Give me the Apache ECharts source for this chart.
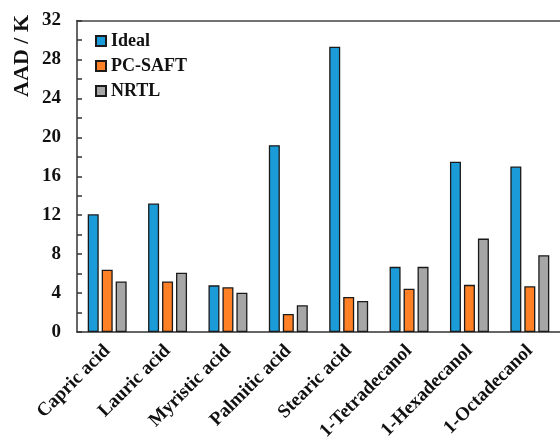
<!DOCTYPE html>
<html><head><meta charset="utf-8">
<script src="https://cdn.jsdelivr.net/npm/echarts@6/dist/echarts.min.js"></script>
<style>html,body{margin:0;padding:0;background:#fff}#c{width:560px;height:443px}</style>
</head><body><div id="c"></div>
<script>
var categories = ['Capric acid','Lauric acid','Myristic acid','Palmitic acid','Stearic acid','1-Tetradecanol','1-Hexadecanol','1-Octadecanol'];
var seriesNames = ['Ideal','PC-SAFT','NRTL'];
var idealVals = [12.1, 13.2, 4.8, 19.2, 29.3, 6.7, 17.5, 17.0];
var pcsaftVals = [6.4, 5.2, 4.6, 1.85, 3.6, 4.45, 4.85, 4.7];
var nrtlVals = [5.2, 6.1, 4.05, 2.75, 3.2, 6.7, 9.6, 7.9];
var yTicks = [0,4,8,12,16,20,24,28,32];
var colors = ['#1b9cd9','#ff8025','#a6a6a6'];
var FONT = '"Liberation Serif","Times New Roman",serif';
var chart = echarts.init(document.getElementById('c'));
function bar(name, data, color){
  return {name:name,type:'bar',data:data,barWidth:11,barGap:'27%',barCategoryGap:'38%',
    itemStyle:{color:color,borderColor:'#1a1a1a',borderWidth:1.3}};
}
chart.setOption({
  animation:false,
  backgroundColor:'#fff',
  grid:{left:77,top:20.5,right:-5,height:312.5,show:false},
  legend:{orient:'vertical',left:90,top:27,itemWidth:10,itemHeight:10,itemGap:7,icon:'rect',
    data:seriesNames,textStyle:{fontFamily:FONT,fontWeight:'bold',fontSize:18,color:'#111'}},
  xAxis:[{type:'category',data:categories,
    axisLine:{lineStyle:{color:'#333',width:1.5}},axisTick:{show:false},
    axisLabel:{rotate:45,interval:0,margin:16,fontFamily:FONT,fontWeight:'bold',fontSize:19,color:'#111'}},
    {type:'category',data:categories,position:'top',
    axisLine:{show:true,lineStyle:{color:'#444',width:1.5}},axisTick:{show:false},axisLabel:{show:false}}],
  yAxis:{type:'value',min:yTicks[0],max:yTicks[yTicks.length-1],interval:4,
    axisLine:{show:true,lineStyle:{color:'#333',width:1.5}},
    axisTick:{show:true,inside:true,length:5,lineStyle:{color:'#333',width:1.5}},
    minorTick:{show:true,splitNumber:2,length:5,lineStyle:{color:'#333',width:1.5}},
    splitLine:{show:false},
    axisLabel:{margin:16,fontFamily:FONT,fontWeight:'bold',fontSize:19,color:'#111'}},
  graphic:[{type:'text',left:11,top:15,rotation:Math.PI/2,
    style:{text:'AAD / K',font:'bold 22px '+FONT,fill:'#111'}}],
  series:[bar(seriesNames[0],idealVals,colors[0]),bar(seriesNames[1],pcsaftVals,colors[1]),bar(seriesNames[2],nrtlVals,colors[2])]
});
</script></body></html>
